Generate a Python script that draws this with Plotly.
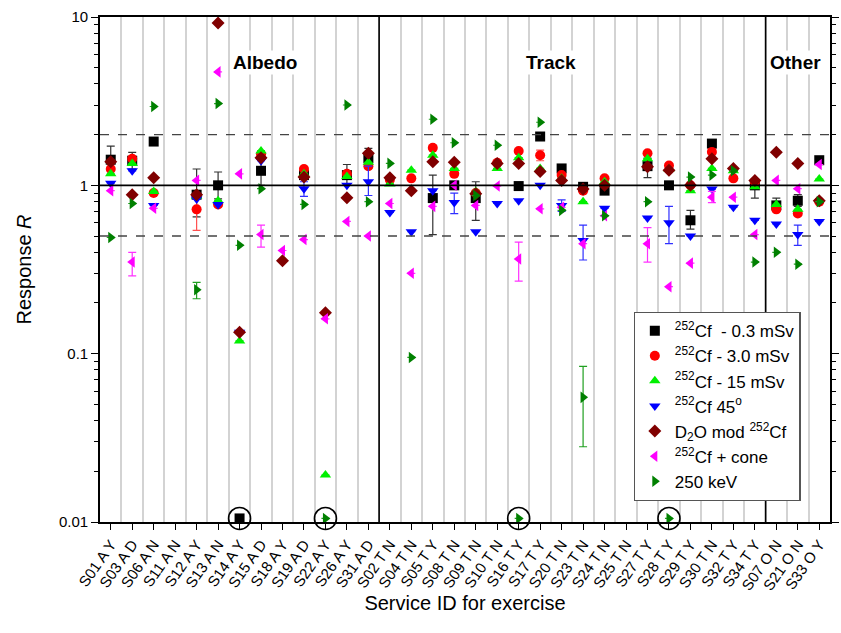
import math
import plotly.graph_objects as go

categories = ["S01 A Y", "S03 A D", "S06 A N", "S11 A N", "S12 A Y", "S13 A N", "S14 A Y",
              "S15 A D", "S18 A Y", "S19 A D", "S22 A Y", "S26 A Y", "S31 A D", "S02 T N",
              "S04 T N", "S05 T Y", "S08 T N", "S09 T N", "S10 T N", "S16 T Y", "S17 T Y",
              "S20 T N", "S23 T N", "S24 T N", "S25 T N", "S27 T Y", "S28 T Y", "S29 T Y",
              "S30 T N", "S32 T Y", "S34 T Y", "S07 O N", "S21 O N", "S33 O Y"]

cf_03 = [1.42, 1.40, 1.82, None, 0.88, 1.00, 0.0105, 1.22, None, 1.15, None, 1.15, 1.45, None,
         None, 0.84, 1.00, 0.84, None, 0.99, 1.95, 1.26, 0.98, 0.93, None, 1.30, 1.00, 0.62,
         1.77, None, 1.00, 0.76, 0.81, 1.41]
cf_30 = [1.25, 1.44, 0.90, None, 0.72, 0.77, None, 1.53, None, 1.25, None, 1.17, 1.30, 1.08,
         1.10, 1.67, 1.17, 0.90, 1.36, 1.60, 1.51, 1.15, 0.93, 1.10, None, 1.55, 1.31, 1.00,
         1.58, 1.10, 1.05, 0.72, 0.68, 0.80]
cf_15 = [1.17, 1.35, 0.92, None, 0.86, 0.81, 0.119, 1.60, None, 1.17, 0.019, 1.13, 1.37, 1.02,
         1.23, 1.51, 1.26, 0.92, 1.26, 1.46, 1.26, 1.10, 0.80, 1.05, None, 1.44, 1.25, 0.93,
         1.26, 1.22, 0.98, 0.77, 0.72, 1.09]
cf_45 = [1.03, 1.22, 0.76, None, 0.83, 0.77, 0.134, 1.40, None, 0.955, None, 1.00, 1.05, 0.69,
         0.53, 0.93, 0.79, 0.53, 0.78, 0.81, 1.00, 0.76, 0.47, 0.73, None, 0.64, 0.60, 0.50,
         0.95, 0.74, 0.62, 0.59, 0.51, 0.61]
d2o = [1.38, 0.88, 1.11, None, 0.88, 9.2, 0.134, 1.46, 0.356, 1.12, 0.175, 0.845, 1.55, 1.11,
       0.93, 1.38, 1.37, 0.89, 1.35, 1.35, 1.21, 1.07, 0.95, 1.00, None, 1.29, 1.23, 1.00,
       1.44, 1.26, 1.07, 1.57, 1.35, 0.81]
cone = [0.93, 0.35, 0.73, None, 1.07, 4.72, 1.17, 0.51, 0.41, 0.476, 0.161, 0.61, 0.50, 0.78,
        0.30, 0.75, 1.00, 0.76, 0.99, 0.365, 0.725, 0.74, 0.45, 0.66, None, 0.45, 0.25, 0.345,
        0.85, 0.85, 0.51, 1.07, 0.955, 1.33]
kev250 = [0.49, 0.78, 2.94, None, 0.24, 3.06, 0.44, 0.955, None, 0.77, 0.0105, 3.00, 0.80, 1.35,
          0.095, 2.47, 1.79, 0.87, 1.73, 0.0105, 2.37, 0.71, 0.055, 0.66, None, 0.80, 0.0105,
          1.12, 1.15, 1.22, 0.35, 0.40, 0.34, 0.80]

# error bars: category -> (low, high)
err_03 = {"S01 A Y": (1.15, 1.71), "S03 A D": (1.25, 1.57), "S12 A Y": (0.65, 1.25),
          "S13 A N": (0.83, 1.20), "S15 A D": (1.00, 1.45), "S26 A Y": (1.00, 1.33),
          "S31 A D": (1.27, 1.66), "S05 T Y": (0.51, 1.15), "S09 T N": (0.62, 1.05),
          "S20 T N": (1.18, 1.33), "S23 T N": (0.90, 1.03), "S27 T Y": (1.11, 1.45),
          "S29 T Y": (0.55, 0.71), "S34 T Y": (0.84, 1.08), "S07 O N": (0.70, 0.84),
          "S21 O N": (0.75, 0.88)}
err_30 = {"S12 A Y": (0.54, 0.85), "S17 T Y": (1.40, 1.62)}
err_45 = {"S19 A D": (0.86, 1.05), "S31 A D": (0.87, 1.30), "S08 T N": (0.68, 0.90),
          "S20 T N": (0.70, 0.82), "S23 T N": (0.36, 0.58), "S28 T Y": (0.45, 0.75),
          "S21 O N": (0.44, 0.58)}
err_cone = {"S03 A D": (0.29, 0.40), "S15 A D": (0.43, 0.58), "S16 T Y": (0.27, 0.46),
            "S27 T Y": (0.35, 0.56), "S30 T N": (0.79, 0.92)}
err_kev = {"S12 A Y": (0.212, 0.265), "S23 T N": (0.028, 0.084)}

circled = ["S14 A Y", "S22 A Y", "S16 T Y", "S28 T Y"]
circled_y = [0.0105, 0.0105, 0.0105, 0.0105]

y_major = [0.01, 0.1, 1, 10]
y_major_text = ["0.01", "0.1", "1", "10"]
y_minor = [m * d for d in (0.01, 0.1, 1) for m in range(2, 10)]

xs = list(range(len(categories)))
sup = "<sup>252</sup>"
series = [
    (sup + "Cf  - 0.3 mSv", cf_03, "square", "#000000", "#333333", err_03),
    (sup + "Cf - 3.0 mSv", cf_30, "circle", "#FF0000", "#FF5050", err_30),
    (sup + "Cf - 15 mSv", cf_15, "triangle-up", "#00F000", "#00C000", {}),
    (sup + "Cf 45<sup>o</sup>", cf_45, "triangle-down", "#0000FF", "#3030FF", err_45),
    ("D<sub>2</sub>O mod " + sup + "Cf", d2o, "diamond", "#800000", "#800000", {}),
    (sup + "Cf + cone", cone, "triangle-left", "#FF00FF", "#FF30FF", err_cone),
    ("250 keV", kev250, "triangle-right", "#008000", "#20A020", err_kev),
]

fig = go.Figure()
for name, vals, sym, col, ecol, errs in series:
    plus, minus = [], []
    for c, v in zip(categories, vals):
        if c in errs and v is not None:
            lo, hi = errs[c]
            plus.append(hi - v)
            minus.append(v - lo)
        else:
            plus.append(float("nan"))
            minus.append(float("nan"))
    fig.add_trace(go.Scatter(
        x=xs, y=vals, mode="markers", name=name,
        marker=dict(symbol=sym, color=col, size=10, line=dict(width=0)),
        error_y=dict(type="data", array=plus, arrayminus=minus, symmetric=False,
                     color=ecol, thickness=1.2, width=4, visible=True),
        cliponaxis=False,
    ))

fig.add_trace(go.Scatter(
    x=[categories.index(c) for c in circled], y=circled_y, mode="markers",
    marker=dict(symbol="circle-open", size=22, color="#000000", line=dict(width=1.6)),
    showlegend=False, cliponaxis=False, hoverinfo="skip"))

shapes = []
groups = [c.split()[1] for c in categories]
for i in range(1, len(groups)):
    if groups[i] != groups[i - 1]:
        shapes.append(dict(type="line", xref="x", yref="paper", x0=i - 0.5, x1=i - 0.5,
                           y0=0, y1=1, line=dict(color="#000000", width=1.6)))
shapes.append(dict(type="line", xref="paper", yref="y", x0=0, x1=1, y0=1, y1=1,
                   line=dict(color="#000000", width=1.6)))
for yv in (2, 0.5):
    shapes.append(dict(type="line", xref="paper", yref="y", x0=0, x1=1, y0=yv, y1=yv,
                       line=dict(color="#444444", width=1.4, dash="dash")))

font_fam = "Arial, Liberation Sans, sans-serif"
annots = [
    dict(x=7.2, y=0.935, xref="x", yref="paper", text="<b>Albedo</b>", showarrow=False,
         font=dict(size=19, color="#000000", family=font_fam), bgcolor="#FFFFFF"),
    dict(x=20.5, y=0.935, xref="x", yref="paper", text="<b>Track</b>", showarrow=False,
         font=dict(size=19, color="#000000", family=font_fam), bgcolor="#FFFFFF"),
    dict(x=30.6, y=0.935, xref="x", yref="paper", text="<b>Other</b>", showarrow=False,
         xanchor="left", font=dict(size=19, color="#000000", family=font_fam),
         bgcolor="#FFFFFF"),
]

fig.update_layout(
    width=841, height=633,
    margin=dict(l=100, r=2, t=17, b=111),
    paper_bgcolor="#FFFFFF", plot_bgcolor="#FFFFFF",
    font=dict(family=font_fam, size=15, color="#000000"),
    shapes=shapes, annotations=annots,
    showlegend=True,
    legend=dict(x=0.731, y=0.416, xanchor="left", yanchor="top",
                bgcolor="#FFFFFF", bordercolor="#555555", borderwidth=1.2,
                font=dict(size=17, family=font_fam), tracegroupgap=0),
    xaxis=dict(
        range=[-0.5, len(categories) - 0.5],
        tickmode="array", tickvals=xs, ticktext=categories, tickangle=-55,
        ticks="outside", ticklen=6, tickcolor="#000000", tickwidth=1.2,
        showgrid=False, zeroline=False,
        showline=True, linecolor="#000000", linewidth=1.6, mirror=True,
        minor=dict(tick0=0.5, dtick=1, showgrid=True, gridcolor="#D3D3D3", gridwidth=1.5,
                   ticks=""),
        tickfont=dict(size=15),
        title=dict(text="Service ID for exercise", font=dict(size=20), standoff=4),
    ),
    yaxis=dict(
        type="log", range=[-2, 1],
        tickmode="array", tickvals=y_major, ticktext=y_major_text,
        ticks="outside", ticklen=7, tickcolor="#000000", tickwidth=1.2,
        minor=dict(tickmode="array", tickvals=y_minor, ticks="outside", ticklen=4,
                   tickcolor="#000000", tickwidth=1, showgrid=False),
        showgrid=False, zeroline=False,
        showline=True, linecolor="#000000", linewidth=1.6, mirror="ticks",
        tickfont=dict(size=15),
        title=dict(text="Response <i>R</i>", font=dict(size=20), standoff=22),
    ),
)

fig.write_html("out.html")
